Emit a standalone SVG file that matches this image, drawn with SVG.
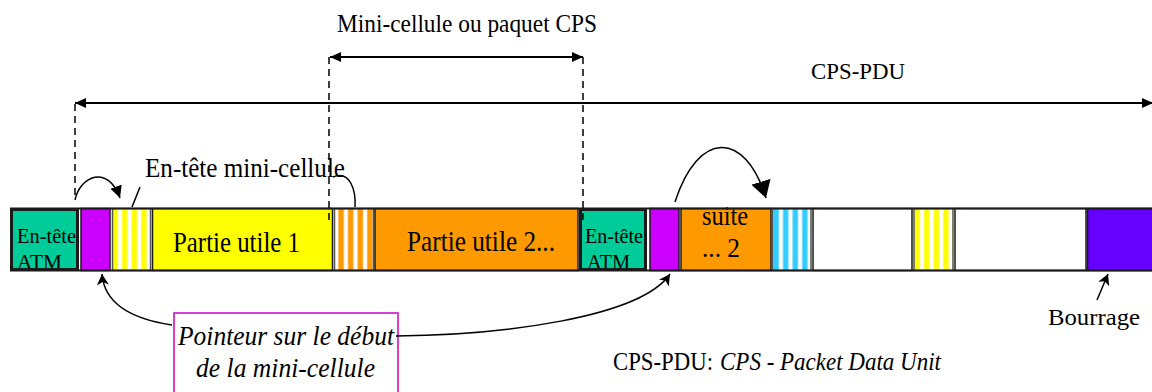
<svg xmlns="http://www.w3.org/2000/svg" width="1152" height="392" viewBox="0 0 1152 392">
  <style>
    text { font-family: "Liberation Serif", "Times New Roman", serif; fill: #000; }
    .lbl { font-size: 25px; }
    .big { font-size: 28.5px; }
    .hdr { font-size: 20.5px; }
    .it { font-style: italic; }
    .box { stroke: #1a1a1a; stroke-width: 1.5; }
    .atm { fill: #00CC99; stroke: #1a1a1a; stroke-width: 3; }
    .stripe { stroke: #555; stroke-width: 1.5; }
    .dash { fill: none; stroke: #000; stroke-width: 1.5; stroke-dasharray: 7 5; }
    .dim { fill: none; stroke: #000; stroke-width: 2; }
    .curve { fill: none; stroke: #000; stroke-width: 1.5; }
  </style>
  <defs>
    <marker id="tri" markerUnits="userSpaceOnUse" markerWidth="12" markerHeight="10" refX="11" refY="5" orient="auto-start-reverse">
      <path d="M0,0 L11,5 L0,10 z" fill="#000"/>
    </marker>
    <marker id="tri-big" markerUnits="userSpaceOnUse" markerWidth="18" markerHeight="20" refX="17" refY="10" orient="auto">
      <path d="M0,0 L17,10 L0,20 z" fill="#000"/>
    </marker>
    <marker id="tri-mid" markerUnits="userSpaceOnUse" markerWidth="13" markerHeight="12" refX="12" refY="6" orient="auto">
      <path d="M0,0 L12,6 L0,12 z" fill="#000"/>
    </marker>
    <marker id="stealth" markerUnits="userSpaceOnUse" markerWidth="12" markerHeight="12" refX="11" refY="6" orient="auto">
      <path d="M0,0 L11,6 L0,12 L3,6 z" fill="#000"/>
    </marker>
    <linearGradient id="g-yellow" x1="0" x2="1" y1="0" y2="0">
      <stop offset="0" stop-color="#FFFF00"/>
      <stop offset="0.42" stop-color="#FFFF00"/>
      <stop offset="0.58" stop-color="#FFFFFF"/>
      <stop offset="0.86" stop-color="#FFFFFF"/>
      <stop offset="1" stop-color="#FFFF00"/>
    </linearGradient>
    <linearGradient id="g-orange" x1="0" x2="1" y1="0" y2="0">
      <stop offset="0" stop-color="#FF9900"/>
      <stop offset="0.42" stop-color="#FF9900"/>
      <stop offset="0.58" stop-color="#FFFFFF"/>
      <stop offset="0.86" stop-color="#FFFFFF"/>
      <stop offset="1" stop-color="#FF9900"/>
    </linearGradient>
    <linearGradient id="g-cyan" x1="0" x2="1" y1="0" y2="0">
      <stop offset="0" stop-color="#33CCFF"/>
      <stop offset="0.42" stop-color="#33CCFF"/>
      <stop offset="0.58" stop-color="#FFFFFF"/>
      <stop offset="0.86" stop-color="#FFFFFF"/>
      <stop offset="1" stop-color="#33CCFF"/>
    </linearGradient>
    <pattern id="p-yellow" patternUnits="userSpaceOnUse" x="113" y="0" width="9.6" height="10">
      <rect width="9.6" height="10" fill="url(#g-yellow)"/>
    </pattern>
    <pattern id="p-yellow2" patternUnits="userSpaceOnUse" x="915" y="0" width="9.6" height="10">
      <rect width="9.6" height="10" fill="url(#g-yellow)"/>
    </pattern>
    <pattern id="p-orange" patternUnits="userSpaceOnUse" x="339" y="0" width="9.6" height="10">
      <rect width="9.6" height="10" fill="url(#g-orange)"/>
    </pattern>
    <pattern id="p-cyan" patternUnits="userSpaceOnUse" x="774" y="0" width="9.6" height="10">
      <rect width="9.6" height="10" fill="url(#g-cyan)"/>
    </pattern>
    <clipPath id="clip-atm1"><rect x="13" y="211" width="63" height="57"/></clipPath>
    <clipPath id="clip-atm2"><rect x="582" y="211" width="62" height="57"/></clipPath>
  </defs>

  <!-- titles above the frame -->
  <g id="label-minicellule">
    <text x="337" y="32" font-size="26" textLength="260" lengthAdjust="spacingAndGlyphs">Mini-cellule ou paquet CPS</text>
  </g>
  <g id="label-cps-pdu">
    <text x="811" y="79" font-size="23" textLength="94" lengthAdjust="spacingAndGlyphs">CPS-PDU</text>
  </g>
  <g id="label-entete-mini">
    <text x="145" y="177" font-size="27" textLength="200" lengthAdjust="spacingAndGlyphs">En-tête mini-cellule</text>
  </g>

  <!-- the CPS-PDU frame, cell by cell -->
  <g id="frame">
    <g id="atm1">
      <rect class="atm" x="11.5" y="209.5" width="66" height="60"/>
      <g clip-path="url(#clip-atm1)">
        <text class="hdr" x="17" y="243" textLength="59" lengthAdjust="spacingAndGlyphs">En-tête</text>
        <text class="hdr" x="17" y="269" textLength="45" lengthAdjust="spacingAndGlyphs">ATM</text>
      </g>
    </g>
    <g id="pointer1"><rect class="box" x="81" y="208.5" width="29" height="62" fill="#CC00FF"/></g>
    <g id="minihdr1"><rect class="stripe" x="112.5" y="208.5" width="38" height="62" fill="url(#p-yellow)"/></g>
    <g id="payload1">
      <rect class="box" x="152.5" y="208.5" width="180" height="62" fill="#FFFF00"/>
      <text class="big" x="173" y="252" textLength="127" lengthAdjust="spacingAndGlyphs">Partie utile 1</text>
    </g>
    <g id="minihdr2"><rect class="stripe" x="334.5" y="208.5" width="39" height="62" fill="url(#p-orange)"/></g>
    <g id="payload2">
      <rect class="box" x="375" y="208.5" width="203" height="62" fill="#FF9900"/>
      <text class="big" x="407" y="251" textLength="148" lengthAdjust="spacingAndGlyphs">Partie utile 2...</text>
    </g>
    <g id="atm2">
      <rect class="atm" x="580.5" y="209.5" width="65" height="60"/>
      <g clip-path="url(#clip-atm2)">
        <text class="hdr" x="585" y="243" textLength="58" lengthAdjust="spacingAndGlyphs">En-tête</text>
        <text class="hdr" x="587" y="269" textLength="43" lengthAdjust="spacingAndGlyphs">ATM</text>
      </g>
    </g>
    <g id="pointer2"><rect class="box" x="650" y="208.5" width="29" height="62" fill="#CC00FF"/></g>
    <g id="payload2-cont">
      <rect class="box" x="681" y="208.5" width="90" height="62" fill="#FF9900"/>
      <text x="702" y="225" font-size="27" textLength="46" lengthAdjust="spacingAndGlyphs">suite</text>
      <text x="702" y="257" font-size="27" textLength="38" lengthAdjust="spacingAndGlyphs">... 2</text>
    </g>
    <g id="minihdr3"><rect class="stripe" x="772.5" y="208.5" width="38.5" height="62" fill="url(#p-cyan)"/></g>
    <g id="payload3"><rect class="box" x="813" y="208.5" width="99" height="62" fill="#FFFFFF"/></g>
    <g id="minihdr4"><rect class="stripe" x="914" y="208.5" width="39" height="62" fill="url(#p-yellow2)"/></g>
    <g id="payload4"><rect class="box" x="955" y="208.5" width="131" height="62" fill="#FFFFFF"/></g>
    <g id="padding"><rect class="box" x="1087.5" y="208.5" width="70" height="62" fill="#6600FF"/></g>
    <line x1="10" y1="208.5" x2="1152" y2="208.5" stroke="#1a1a1a" stroke-width="2"/>
    <line x1="10" y1="270.5" x2="1152" y2="270.5" stroke="#1a1a1a" stroke-width="2"/>
  </g>

  <!-- annotations below the frame -->
  <g id="pointer-note">
    <rect x="174" y="313" width="224" height="90" fill="#FFFFFF" stroke="#CC00CC" stroke-width="1.5"/>
    <text class="it" x="178" y="345" font-size="27.5" textLength="216" lengthAdjust="spacingAndGlyphs">Pointeur sur le début</text>
    <text class="it" x="196" y="377" font-size="27.5" textLength="179" lengthAdjust="spacingAndGlyphs">de la mini-cellule</text>
  </g>
  <g id="label-bourrage">
    <text x="1048" y="325" font-size="24" textLength="92" lengthAdjust="spacingAndGlyphs">Bourrage</text>
  </g>
  <g id="legend">
    <text x="613" y="370" font-size="25" textLength="100" lengthAdjust="spacingAndGlyphs">CPS-PDU:</text>
    <text class="it" x="720" y="370" font-size="25" textLength="221" lengthAdjust="spacingAndGlyphs">CPS - Packet Data Unit</text>
  </g>

  <!-- connectors -->
  <g id="connectors">
    <line class="dash" x1="75" y1="104" x2="75" y2="200"/>
    <line class="dash" x1="329" y1="57" x2="329" y2="224"/>
    <line class="dash" x1="583" y1="57" x2="583" y2="220"/>
    <line class="dim" x1="330" y1="57" x2="583" y2="57" marker-start="url(#tri)" marker-end="url(#tri)"/>
    <line class="dim" x1="75" y1="103" x2="1153" y2="103" marker-start="url(#tri)" marker-end="url(#tri)"/>
    <path class="curve" d="M75,200 C80,176 108,164 120,198" marker-end="url(#tri-mid)"/>
    <path class="curve" d="M140,187 L132,207"/>
    <path class="curve" d="M333,177 C350,170 356,190 355,207"/>
    <path class="curve" d="M675,202 C698,130 745,130 766,198" marker-end="url(#tri-big)"/>
    <path class="curve" d="M172,325 C125,318 104,300 102,274" marker-end="url(#stealth)"/>
    <path class="curve" d="M396,336 C500,335 640,318 670,274" marker-end="url(#stealth)"/>
    <path class="curve" d="M1097,300 L1108,274" marker-end="url(#stealth)"/>
  </g>
</svg>
